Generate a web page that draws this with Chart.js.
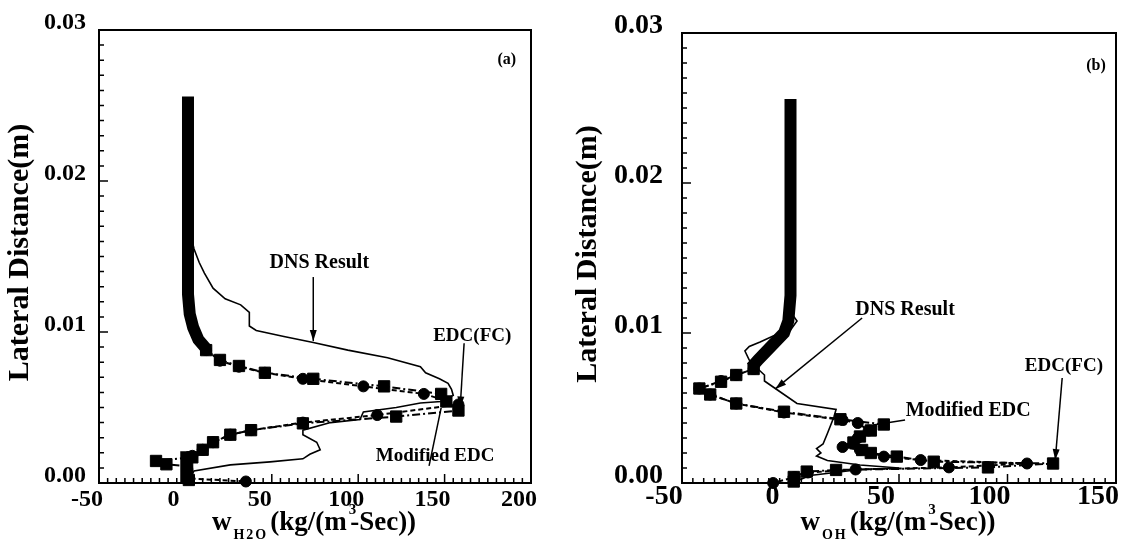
<!DOCTYPE html>
<html><head><meta charset="utf-8">
<script src="https://cdn.jsdelivr.net/npm/chart.js@4"></script>
<style>
html,body{margin:0;padding:0;background:#fff;width:1128px;height:544px;overflow:hidden}
#ca{position:absolute;left:0;top:0}
#cb{position:absolute;left:560px;top:0}
</style></head><body>
<canvas id="ca" width="560" height="544"></canvas>
<canvas id="cb" width="568" height="544"></canvas>
<script>
// ---------- tick labels ----------
const yTicks = [0, 0.01, 0.02, 0.03];
const xTicksA = [-50, 0, 50, 100, 150, 200];
const xTicksB = [-50, 0, 50, 100, 150];

// ---------- panel (a): H2O ----------
const aDnsX = [2, 3, 5, 8, 11, 16, 23, 32, 37, 37, 41, 57, 74, 94, 117, 136, 139, 147, 152, 154, 155, 148, 136, 122, 103, 101, 84, 68, 68, 76, 78, 72, 68, 49, 26, 5, 1];
const aDnsY = [0.0255, 0.0165, 0.0155, 0.0146, 0.0139, 0.0129, 0.0122, 0.0118, 0.0113, 0.0104, 0.0101, 0.0097, 0.0093, 0.0088, 0.0083, 0.0077, 0.0073, 0.0069, 0.0066, 0.0062, 0.0058, 0.0054, 0.0053, 0.0050, 0.0047, 0.0042, 0.0040, 0.0035, 0.0032, 0.0027, 0.0022, 0.0019, 0.0016, 0.0014, 0.0012, 0.0008, 0.0];
const aFcX = [12, 20, 31, 46, 74, 115, 148, 151, 158, 122, 68, 38, 26, 16, 10, 4, -17, -11, 1, 1, 2];
const aFcY = [0.0088, 0.00815, 0.00775, 0.0073, 0.0069, 0.0064, 0.0059, 0.0054, 0.0048, 0.0044, 0.00395, 0.0035, 0.0032, 0.0027, 0.0022, 0.0017, 0.00146, 0.00124, 0.0011, 0.0006, 0.0002];
const aModX = [12, 20, 31, 46, 68, 103, 138, 158, 111, 68, 38, 26, 16, 10, 4, 1, 2, 35];
const aModY = [0.0088, 0.0081, 0.0077, 0.0073, 0.0069, 0.0064, 0.0059, 0.0052, 0.0045, 0.0040, 0.0035, 0.0032, 0.0027, 0.0022, 0.0018, 0.0010, 0.0003, 0.0001];
const aBandX = [1.5, 1.5, 2.5, 4.5, 7.5, 12];
const aBandY = [0.0256, 0.0125, 0.0112, 0.0103, 0.0095, 0.0089];
const aBand2X = [0.5, 0.5];
const aBand2Y = [0.0021, 0.0];

// ---------- panel (b): OH ----------
const bDnsX = [0, 0, -2, 0, 1, 3, 1, 0, -8, -14, -19, -21, -19, -15, -12, -12, -7, 3, 21, 20, 17, 15, 12, 14, 12, 17, 32, 50, 32, 9, 4, 1];
const bDnsY = [0.0255, 0.0145, 0.0140, 0.0135, 0.0112, 0.0108, 0.0104, 0.0102, 0.0098, 0.0094, 0.0091, 0.0088, 0.0082, 0.0076, 0.0072, 0.0068, 0.0063, 0.0053, 0.0049, 0.0044, 0.0033, 0.0026, 0.0023, 0.0020, 0.0018, 0.0015, 0.0012, 0.0010, 0.0009, 0.0005, 0.0002, 0.0];
const bFcX = [-17, -25, -32, -42, -37, -25, -3, 23, 43, 37, 32, 29, 33, 37, 49, 66, 121, 91, 21, 7.5, 1.5, 1.5];
const bFcY = [0.0076, 0.0072, 0.00675, 0.0063, 0.0059, 0.0053, 0.00475, 0.00425, 0.0039, 0.0035, 0.0031, 0.0027, 0.0022, 0.0020, 0.00176, 0.00142, 0.0013, 0.00104, 0.00087, 0.00076, 0.0004, 0.0001];
const bModX = [-17, -25, -32, -42, -37, -25, -3, 24, 31, 36, 31, 24, 32, 43, 60, 109, 73, 30, 8, 2, -8];
const bModY = [0.0076, 0.0072, 0.0068, 0.0063, 0.0059, 0.0053, 0.0047, 0.0042, 0.0040, 0.0035, 0.0030, 0.0024, 0.0022, 0.00176, 0.00153, 0.0013, 0.00104, 0.0009, 0.0007, 0.0004, 0.0];
const bBandX = [0, 0, -1, -3, -9, -15, -18];
const bBandY = [0.0256, 0.0125, 0.0108, 0.0100, 0.0091, 0.0082, 0.0077];

// ---------- annotation texts (anchored in data units) ----------
const aNotes = [
  {text: '(a)', x: 186, y: 0.0280, size: 16},
  {text: 'DNS Result', x: 77.5, y: 0.01457, size: 20},
  {text: 'EDC(FC)', x: 166, y: 0.00974, size: 19},
  {text: 'Modified EDC', x: 144.5, y: 0.00179, size: 19}
];
const aArrows = [
  {x1: 74, y1: 0.01364, x2: 74, y2: 0.0094, head: true},
  {x1: 161.3, y1: 0.00925, x2: 159, y2: 0.0050, head: true},
  {x1: 141, y1: 0.00113, x2: 148, y2: 0.00497, head: false}
];
const bNotes = [
  {text: '(b)', x: 140.8, y: 0.0278, size: 16},
  {text: 'DNS Result', x: 52.8, y: 0.01153, size: 20},
  {text: 'Modified EDC', x: 81.9, y: 0.0048, size: 20},
  {text: 'EDC(FC)', x: 126, y: 0.0078, size: 19}
];
const bArrows = [
  {x1: 33, y1: 0.0110, x2: -7, y2: 0.00627, head: true},
  {x1: 52.8, y1: 0.0042, x2: 38.1, y2: 0.00387, head: false},
  {x1: 125.2, y1: 0.0070, x2: 122, y2: 0.00153, head: true}
];

const FONT = '"Liberation Serif", "Times New Roman", serif';
const Y_MINOR = 0.001, X_MINOR = 5;

function pts(xs, ys) { return xs.map((x, i) => ({x: x, y: ys[i]})); }

function arrow(ctx, x1, y1, x2, y2, head) {
  ctx.beginPath(); ctx.moveTo(x1, y1); ctx.lineTo(x2, y2); ctx.stroke();
  if (!head) return;
  const a = Math.atan2(y2 - y1, x2 - x1), L = 11, W = 3.5;
  ctx.beginPath();
  ctx.moveTo(x2, y2);
  ctx.lineTo(x2 - L * Math.cos(a) + W * Math.sin(a), y2 - L * Math.sin(a) - W * Math.cos(a));
  ctx.lineTo(x2 - L * Math.cos(a) - W * Math.sin(a), y2 - L * Math.sin(a) + W * Math.cos(a));
  ctx.closePath(); ctx.fill();
}

function makeDeco(cfg) {
  return {
    id: 'deco',
    afterDraw(chart) {
      const ctx = chart.ctx, xs = chart.scales.x, ys = chart.scales.y, ca = chart.chartArea;
      ctx.save();
      ctx.strokeStyle = '#000'; ctx.fillStyle = '#000';
      ctx.lineWidth = 2;
      ctx.strokeRect(ca.left, ca.top, ca.right - ca.left, ca.bottom - ca.top);
      ctx.lineWidth = 1.5; ctx.beginPath();
      const nY = Math.round((ys.max - ys.min) / Y_MINOR);
      for (let i = 0; i <= nY; i++) {
        const p = ys.getPixelForValue(ys.min + i * Y_MINOR), L = (i % 10 === 0) ? 9 : 5;
        ctx.moveTo(ca.left, p); ctx.lineTo(ca.left + L, p);
      }
      const nX = Math.round((xs.max - xs.min) / X_MINOR);
      for (let i = 0; i <= nX; i++) {
        const p = xs.getPixelForValue(xs.min + i * X_MINOR), L = (i % 10 === 0) ? 9 : 5;
        ctx.moveTo(p, ca.bottom); ctx.lineTo(p, ca.bottom - L);
      }
      ctx.stroke();
      // annotations
      ctx.lineWidth = 1.5;
      cfg.arrows.forEach(a => arrow(ctx, xs.getPixelForValue(a.x1), ys.getPixelForValue(a.y1),
        xs.getPixelForValue(a.x2), ys.getPixelForValue(a.y2), a.head));
      ctx.textAlign = 'center'; ctx.textBaseline = 'middle';
      cfg.notes.forEach(n => {
        ctx.font = 'bold ' + n.size + 'px ' + FONT;
        ctx.fillText(n.text, xs.getPixelForValue(n.x), ys.getPixelForValue(n.y));
      });
      // y title
      ctx.save();
      ctx.translate(cfg.yTitleX, (ca.top + ca.bottom) / 2 - 4);
      ctx.rotate(-Math.PI / 2);
      ctx.font = 'bold 30px ' + FONT;
      ctx.textAlign = 'center'; ctx.textBaseline = 'alphabetic';
      ctx.fillText('Lateral Distance(m)', 0, 0);
      ctx.restore();
      // x title with sub/superscripts
      const parts = [
        {t: 'w', s: 27, dy: 0, ls: 0},
        {t: cfg.sub, s: 14, dy: 9, ls: 2},
        {t: '(kg/(m', s: 27, dy: 0, ls: 0},
        {t: '3', s: 15, dy: -16, ls: 0, adv: 0.2},
        {t: '-Sec))', s: 27, dy: 0, ls: 0}
      ];
      ctx.textAlign = 'left'; ctx.textBaseline = 'alphabetic';
      let total = 0;
      parts.forEach(p => {
        ctx.font = 'bold ' + p.s + 'px ' + FONT;
        ctx.letterSpacing = p.ls + 'px';
        p.w = ctx.measureText(p.t).width;
        p.a = p.adv !== undefined ? p.w * p.adv : p.w + 2;
        total += p.a;
      });
      let x = (ca.left + ca.right) / 2 - total / 2;
      const base = ca.bottom + 47;
      parts.forEach(p => {
        ctx.font = 'bold ' + p.s + 'px ' + FONT;
        ctx.letterSpacing = p.ls + 'px';
        ctx.fillText(p.t, x, base + p.dy);
        x += p.a;
      });
      ctx.letterSpacing = '0px';
      ctx.restore();
    }
  };
}

function build(canvasId, d) {
  const tickFont = {family: FONT, weight: 'bold', size: d.tickSize};
  return new Chart(document.getElementById(canvasId), {
    type: 'scatter',
    data: {
      datasets: [
        {label: 'EDC(FC)', data: pts(d.fcX, d.fcY), showLine: true, borderColor: '#000', borderWidth: 2,
          borderDash: [8, 3, 2, 3], pointStyle: 'rect', pointRadius: 8, pointBackgroundColor: '#000',
          pointBorderColor: '#000', pointBorderWidth: 1, clip: false},
        {label: 'Modified EDC', data: pts(d.modX, d.modY), showLine: true, borderColor: '#000', borderWidth: 2,
          borderDash: [5, 3], pointStyle: 'circle', pointRadius: 5.5, pointBackgroundColor: '#000',
          pointBorderColor: '#000', pointBorderWidth: 1, clip: false},
        {label: 'DNS Result', data: pts(d.dnsX, d.dnsY), showLine: true, borderColor: '#000', borderWidth: 1.6,
          pointRadius: 0, clip: false},
        {label: 'EDC band', data: pts(d.bandX, d.bandY), showLine: true, borderColor: '#000', borderWidth: 12,
          borderCapStyle: 'butt', borderJoinStyle: 'miter', pointRadius: 0, clip: false},
        ...(d.band2X ? [{label: 'EDC band low', data: pts(d.band2X, d.band2Y), showLine: true, borderColor: '#000',
          borderWidth: 12, borderCapStyle: 'butt', pointRadius: 0, clip: false}] : [])
      ]
    },
    options: {
      responsive: false, animation: false, devicePixelRatio: 1,
      layout: {padding: {left: 0, right: d.padRight, top: d.padTop, bottom: 0}},
      plugins: {legend: {display: false}, tooltip: {enabled: false}},
      scales: {
        x: {
          type: 'linear', min: -50, max: d.xMax,
          afterBuildTicks: s => { s.ticks = d.xTicks.map(v => ({value: v})); },
          ticks: {font: tickFont, color: '#000', labelOffset: d.xLabelOffset, padding: d.xPad, maxRotation: 0,
            callback: v => String(v)},
          grid: {display: false, drawTicks: false}, border: {display: false},
          afterFit: s => { s.height = 61; s.paddingLeft = 0; s.paddingRight = 0; }
        },
        y: {
          type: 'linear', min: 0, max: 0.03,
          afterBuildTicks: s => { s.ticks = yTicks.map(v => ({value: v})); },
          ticks: {font: tickFont, color: '#000', labelOffset: -7, padding: d.yPad,
            callback: v => v.toFixed(2)},
          grid: {display: false, drawTicks: false}, border: {display: false},
          afterFit: s => { s.width = d.yWidth; s.paddingTop = 0; s.paddingBottom = 0; }
        }
      }
    },
    plugins: [makeDeco({notes: d.notes, arrows: d.arrows, sub: d.sub, yTitleX: d.yTitleX})]
  });
}

build('ca', {
  dnsX: aDnsX, dnsY: aDnsY, fcX: aFcX, fcY: aFcY, modX: aModX, modY: aModY,
  bandX: aBandX, bandY: aBandY, band2X: aBand2X, band2Y: aBand2Y,
  xMax: 200, xTicks: xTicksA, tickSize: 24, xLabelOffset: -12, xPad: 2, yPad: 13,
  yWidth: 99, padRight: 29, padTop: 30, notes: aNotes, arrows: aArrows, sub: 'H2O', yTitleX: 28
});
build('cb', {
  dnsX: bDnsX, dnsY: bDnsY, fcX: bFcX, fcY: bFcY, modX: bModX, modY: bModY,
  bandX: bBandX, bandY: bBandY,
  xMax: 150, xTicks: xTicksB, tickSize: 28, xLabelOffset: -18, xPad: -3, yPad: 19,
  yWidth: 122, padRight: 12, padTop: 33, notes: bNotes, arrows: bArrows, sub: 'OH', yTitleX: 36
});
</script>
</body></html>
